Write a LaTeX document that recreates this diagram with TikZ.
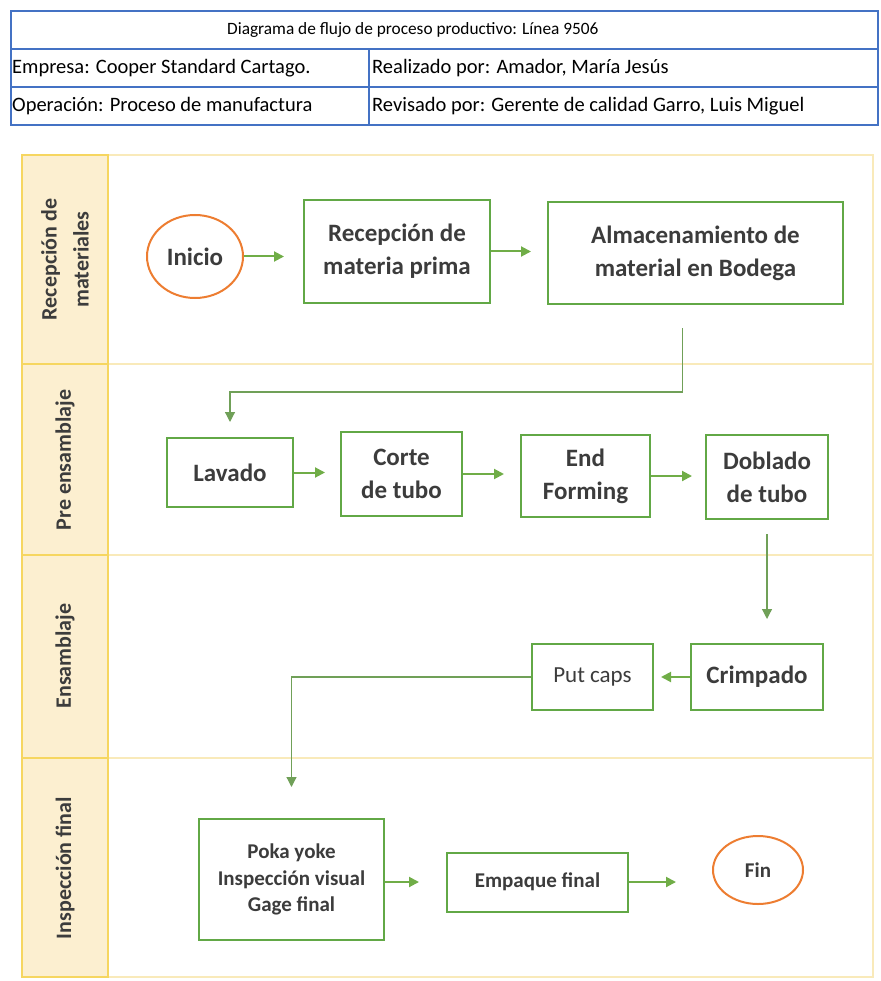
\documentclass[tikz,border=0pt]{standalone}
\usepackage{fontspec}
\setmainfont{Carlito}
\usetikzlibrary{
	arrows.meta,
	shapes.geometric,
	positioning
}

\definecolor{boxgreen}{RGB}{98,168,70}
\definecolor{arrowgreen}{RGB}{112,173,71}
\definecolor{linkgreen}{RGB}{112,160,88}
\definecolor{termorange}{RGB}{237,125,49}
\definecolor{tableblue}{RGB}{68,114,196}
\definecolor{lanefill}{RGB}{252,239,208}
\definecolor{laneborder}{RGB}{246,214,96}
\definecolor{lanepale}{RGB}{249,234,186}
\definecolor{textgray}{RGB}{60,60,60}

\newcommand{\boxfont}{\fontsize{25}{33}\selectfont\bfseries}
\newcommand{\smallboxfont}{\fontsize{21}{26.5}\selectfont\bfseries}
\newcommand{\capsfont}{\fontsize{23}{26}\selectfont}
\newcommand{\lanefont}{\fontsize{22}{32}\selectfont\bfseries}
\newcommand{\cellfont}{\fontsize{20.5}{24}\selectfont}
\newcommand{\titlefont}{\fontsize{17.3}{20}\selectfont}

\begin{document}
\begin{tikzpicture}[x=1pt, y=-1pt,
	proc/.style={draw=boxgreen, line width=2pt, fill=white, text=textgray, align=center, inner sep=0pt, font=\boxfont},
	term/.style={ellipse, draw=termorange, line width=2pt, fill=white, text=textgray, inner sep=0pt, font=\boxfont},
	flow/.style={draw=arrowgreen, line width=2pt, -{Triangle[length=10pt, width=10pt]}},
	link/.style={draw=linkgreen, line width=1.2pt, -{Triangle[length=10pt, width=10pt]}},
	lanelabel/.style={rotate=90, align=center, text=textgray, font=\lanefont},
	cell/.style={anchor=west, inner sep=0pt, text=black, font=\cellfont},
	rule/.style={tableblue, line width=1.5pt}
]
\useasboundingbox (0,0) rectangle (880,981);

% Header table
\draw[rule] (11,11) rectangle (878,125);
\draw[rule] (11,49) -- (878,49);
\draw[rule] (11,87) -- (878,87);
\draw[rule] (369,49) -- (369,125);
\node[cell, font=\titlefont] (title) at (227,30) {Diagrama de flujo de proceso productivo: Línea 9506};
\node[cell] (empresa) at (12,68) {Empresa: Cooper Standard Cartago.};
\node[cell] (operacion) at (12,106) {Operación: Proceso de manufactura};
\node[cell] (realizado) at (372,68) {Realizado por: Amador, María Jesús};
\node[cell] (revisado) at (372,106) {Revisado por: Gerente de calidad Garro, Luis Miguel};

% Swimlanes
\fill[lanefill] (22,155) rectangle (108,977);
\draw[lanepale, line width=1.5pt] (22,155) rectangle (873,977);
\foreach \y in {364,555,758} {
	\draw[lanepale, line width=1.5pt] (108,\y) -- (873,\y);
	\draw[laneborder, line width=2pt] (22,\y) -- (108,\y);
}
\draw[laneborder, line width=2pt] (22,155) rectangle (108,977);

% Lane labels
\node[lanelabel] (lrecep) at (65,259.5) {Recepción de\\materiales};
\node[lanelabel] (lpre) at (65,460) {Pre ensamblaje};
\node[lanelabel] (lens) at (65,656) {Ensamblaje};
\node[lanelabel] (linsp) at (65,868) {Inspección final};

% Recepcion de materiales
\node[term, minimum width=96pt, minimum height=83pt] (inicio) at (195,256.5) {Inicio};
\node[proc, minimum width=186pt, minimum height=103pt] (recep) at (397,251.5) {Recepción de\\materia prima};
\node[proc, minimum width=295pt, minimum height=102pt] (almac) at (695.5,253) {Almacenamiento de\\material en Bodega};

% Pre ensamblaje
\node[proc, minimum width=126pt, minimum height=69pt] (lavado) at (230,472.5) {Lavado};
\node[proc, minimum width=121pt, minimum height=84pt] (corte) at (401.5,474) {Corte\\de tubo};
\node[proc, minimum width=129pt, minimum height=82pt] (endf) at (585.5,476) {End\\Forming};
\node[proc, minimum width=122pt, minimum height=84pt] (doblado) at (767,477) {Doblado\\de tubo};

% Ensamblaje
\node[proc, minimum width=132pt, minimum height=66pt] (crimp) at (757,677) {Crimpado};
\node[proc, font=\capsfont, minimum width=121pt, minimum height=66pt] (putcaps) at (592.5,677) {Put caps};

% Inspeccion final
\node[proc, font=\smallboxfont, minimum width=185pt, minimum height=121pt] (poka) at (291.5,879.5) {Poka yoke\\Inspección visual\\Gage final};
\node[proc, font=\smallboxfont, minimum width=181pt, minimum height=59pt] (empaque) at (537.5,882) {Empaque final};
\node[term, font=\smallboxfont, minimum width=90pt, minimum height=68pt] (fin) at (758,870) {Fin};

% Connectors
\draw[flow, shorten >=19pt] (inicio.east) -- (inicio.east -| recep.west);
\draw[flow, shorten >=16pt] (recep.east) -- (recep.east -| almac.west);
\draw[link, shorten <=23pt, shorten >=15pt] ([xshift=-13pt]almac.south) -- ++(0,87) -| (lavado.north);
\draw[flow, shorten >=15pt] (lavado.east) -- (lavado.east -| corte.west);
\draw[flow, shorten >=16pt] (corte.east) -- (corte.east -| endf.west);
\draw[flow, shorten >=13pt] (endf.east) -- (endf.east -| doblado.west);
\draw[link, shorten <=14pt, shorten >=24pt] (doblado.south) -- (doblado.south |- crimp.north);
\draw[flow, shorten >=7pt] (crimp.west) -- (crimp.west -| putcaps.east);
\draw[link, shorten >=31pt] (putcaps.west) -| (poka.north);
\draw[flow, shorten >=27pt] (poka.east |- empaque) -- (empaque.west);
\draw[flow, shorten >=36pt] (empaque.east) -- (empaque.east -| fin.west);

\end{tikzpicture}
\end{document}
